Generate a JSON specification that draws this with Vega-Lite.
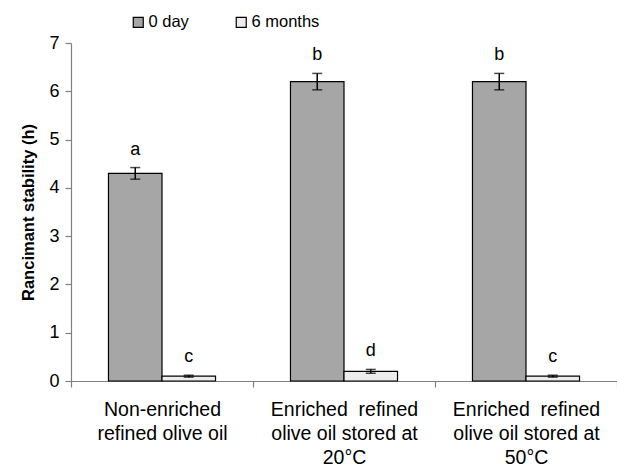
{
  "$schema": "https://vega.github.io/schema/vega-lite/v6.json",
  "autosize": {"type": "none"},
  "padding": {"left": 71, "top": 43, "right": 0, "bottom": 85},
  "width": 546,
  "height": 338,
  "background": "white",
  "config": {
    "font": "Liberation Sans",
    "view": {"stroke": null}
  },
  "data": {
    "values": [
      {"group": "Non-enriched|refined olive oil", "period": "0 day", "value": 4.3, "lo": 4.18, "hi": 4.42, "letter": "a"},
      {"group": "Non-enriched|refined olive oil", "period": "6 months", "value": 0.1, "lo": 0.08, "hi": 0.12, "letter": "c"},
      {"group": "Enriched\u00a0 refined|olive oil stored at|20°C", "period": "0 day", "value": 6.2, "lo": 6.03, "hi": 6.37, "letter": "b"},
      {"group": "Enriched\u00a0 refined|olive oil stored at|20°C", "period": "6 months", "value": 0.2, "lo": 0.16, "hi": 0.24, "letter": "d"},
      {"group": "Enriched\u00a0 refined|olive oil stored at|50°C", "period": "0 day", "value": 6.2, "lo": 6.03, "hi": 6.37, "letter": "b"},
      {"group": "Enriched\u00a0 refined|olive oil stored at|50°C", "period": "6 months", "value": 0.1, "lo": 0.08, "hi": 0.12, "letter": "c"}
    ]
  },
  "encoding": {
    "x": {
      "field": "group",
      "type": "nominal",
      "sort": null,
      "scale": {"paddingInner": 0, "paddingOuter": 0},
      "axis": {
        "title": null,
        "labelAngle": 0,
        "labelExpr": "split(datum.label, '|')",
        "labelFont": "Liberation Sans",
        "labelFontSize": 19.5,
        "labelColor": "black",
        "labelLineHeight": 24,
        "labelPadding": 13,
        "tickBand": "extent",
        "tickSize": 6,
        "tickColor": "#808080",
        "domainColor": "#808080",
        "domainWidth": 1.2,
        "tickWidth": 1.2
      }
    },
    "xOffset": {
      "field": "period",
      "type": "nominal",
      "scale": {"paddingInner": 0, "paddingOuter": 0.7}
    }
  },
  "layer": [
    {
      "mark": {"type": "bar", "stroke": "black", "strokeWidth": 1.2},
      "encoding": {
        "y": {
          "field": "value",
          "type": "quantitative",
          "scale": {"domain": [0, 7]},
          "axis": {
            "title": "Rancimant stability (h)",
            "titleFont": "Liberation Sans",
            "titleFontSize": 16.5,
            "titleFontWeight": "bold",
            "titleColor": "black",
            "titlePadding": 12,
            "values": [0, 1, 2, 3, 4, 5, 6, 7],
            "labelFontSize": 18,
            "labelColor": "black",
            "labelPadding": 6,
            "grid": false,
            "tickSize": 6,
            "tickColor": "#808080",
            "domainColor": "#808080",
            "domainWidth": 1.2,
            "tickWidth": 1.2
          }
        },
        "fill": {
          "field": "period",
          "type": "nominal",
          "scale": {"domain": ["0 day", "6 months"], "range": ["#a6a6a6", "#ececec"]},
          "legend": {
            "title": null,
            "orient": "none",
            "direction": "horizontal",
            "legendX": 59,
            "legendY": -29,
            "symbolType": "square",
            "symbolSize": 100,
            "symbolStrokeColor": "black",
            "symbolStrokeWidth": 1.2,
            "labelFontSize": 16.5,
            "labelColor": "black",
            "labelOffset": 2,
            "columnPadding": 44
          }
        }
      }
    },
    {
      "mark": {"type": "rule", "stroke": "black", "strokeWidth": 1.5},
      "encoding": {
        "y": {"field": "lo", "type": "quantitative"},
        "y2": {"field": "hi"}
      }
    },
    {
      "mark": {"type": "tick", "color": "black", "thickness": 1.5, "size": 10},
      "encoding": {"y": {"field": "lo", "type": "quantitative"}}
    },
    {
      "mark": {"type": "tick", "color": "black", "thickness": 1.5, "size": 10},
      "encoding": {"y": {"field": "hi", "type": "quantitative"}}
    },
    {
      "mark": {"type": "text", "baseline": "bottom", "dy": -9, "fontSize": 18, "color": "black", "font": "Liberation Sans"},
      "encoding": {
        "y": {"field": "hi", "type": "quantitative"},
        "text": {"field": "letter"}
      }
    }
  ]
}
